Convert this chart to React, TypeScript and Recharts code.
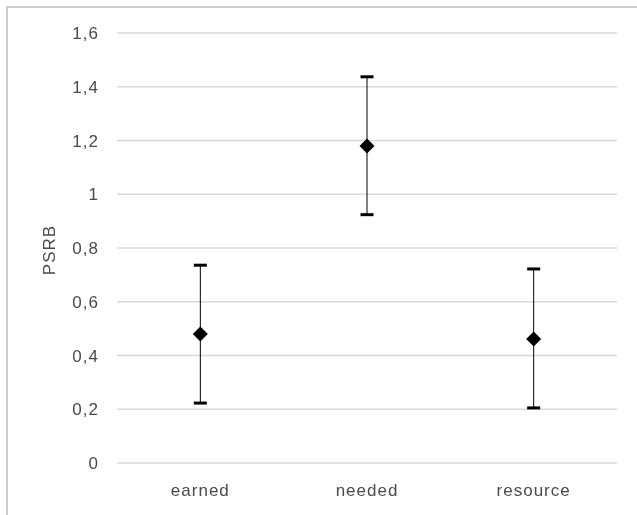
import { ComposedChart, Line, XAxis, YAxis, CartesianGrid, ErrorBar } from 'recharts'

const categories = ['earned', 'needed', 'resource']
const means = [0.48, 1.18, 0.461]
const lowers = [0.223, 0.924, 0.205]
const uppers = [0.736, 1.437, 0.722]
const yTicks = [0, 0.2, 0.4, 0.6, 0.8, 1, 1.2, 1.4, 1.6]

const data = categories.map((name, i) => ({
  name,
  mean: means[i],
  low: lowers[i],
  high: uppers[i],
  err: [means[i] - lowers[i], uppers[i] - means[i]],
}))

const FONT = 'Liberation Sans, Arial, sans-serif'
const TEXT = '#4a4a4a'
const fmt = (v: number) => String(Math.round(v * 10) / 10).replace('.', ',')

const Diamond = (props: any) => {
  const { cx, cy } = props
  if (typeof cx !== 'number' || typeof cy !== 'number') return null
  const r = 7.5
  return <path d={`M${cx},${cy - r}L${cx + r},${cy}L${cx},${cy + r}L${cx - r},${cy}Z`} fill="#000" />
}

const Cap = (props: any) => {
  const { cx, cy } = props
  if (typeof cx !== 'number' || typeof cy !== 'number') return null
  return <rect x={cx - 6.5} y={cy - 1.5} width={13} height={3} fill="#000" />
}

export default function App() {
  return (
    <div style={{ width: 629, height: 507, position: 'relative' }}>
      <div
        style={{
          position: 'fixed',
          left: 6,
          top: 6,
          width: 700,
          height: 600,
          borderTop: '2px solid #cccccc',
          borderLeft: '2px solid #cccccc',
          pointerEvents: 'none',
        }}
      />
      <ComposedChart
        width={629}
        height={507}
        data={data}
        margin={{ top: 25, right: 20, left: 0, bottom: 0 }}
      >
        <CartesianGrid vertical={false} stroke="#d9d9d9" strokeWidth={1.5} />
        <XAxis
          dataKey="name"
          scale="band"
          axisLine={false}
          tickLine={false}
          tickSize={0}
          tickMargin={21}
          height={52}
          tick={{ fill: TEXT, fontSize: 17, fontFamily: FONT, letterSpacing: 1 }}
        />
        <YAxis
          domain={[0, 1.6]}
          ticks={yTicks}
          width={109}
          axisLine={false}
          tickLine={false}
          tickSize={0}
          tickMargin={18}
          tickFormatter={fmt}
          tick={{ fill: TEXT, fontSize: 17, fontFamily: FONT, letterSpacing: 1 }}
          label={{
            content: (p: any) => {
              const vb = p.viewBox || {}
              const x = 41
              const y = (vb.y ?? 25) + (vb.height ?? 430) / 2 + 2
              return (
                <text
                  x={x}
                  y={y}
                  transform={`rotate(-90, ${x}, ${y})`}
                  textAnchor="middle"
                  dominantBaseline="central"
                  fill={TEXT}
                  fontSize={17}
                  letterSpacing={1}
                  fontFamily={FONT}
                >
                  PSRB
                </text>
              )
            },
          }}
        />
        <Line dataKey="mean" stroke="none" dot={<Diamond />} activeDot={false} isAnimationActive={false}>
          <ErrorBar dataKey="err" width={0} stroke="#000" strokeWidth={1} direction="y" />
        </Line>
        <Line dataKey="high" stroke="none" dot={<Cap />} activeDot={false} isAnimationActive={false} />
        <Line dataKey="low" stroke="none" dot={<Cap />} activeDot={false} isAnimationActive={false} />
      </ComposedChart>
    </div>
  )
}
